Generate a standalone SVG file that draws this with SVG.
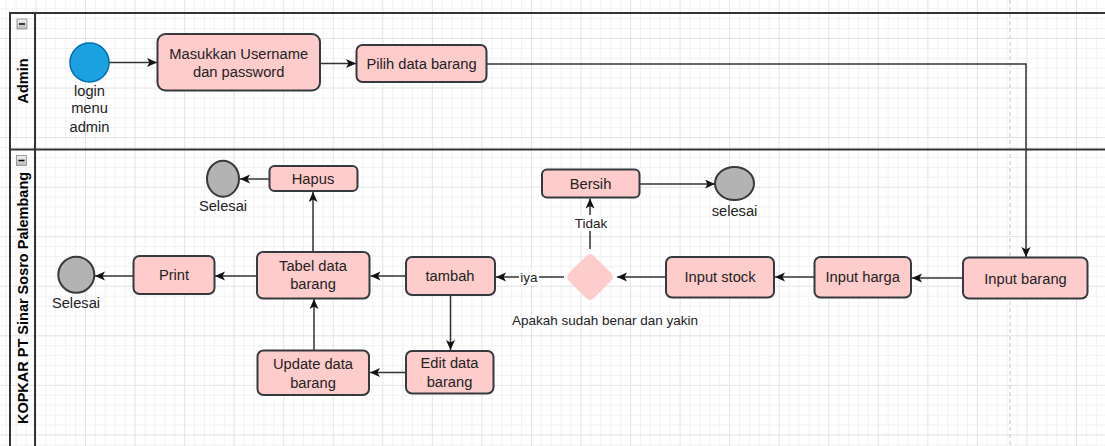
<svg xmlns="http://www.w3.org/2000/svg" width="1105" height="446" viewBox="0 0 1105 446">
  <style>
    .node { fill: #ffcccc; stroke: #36393d; stroke-width: 2; }
    .end { fill: #b3b3b3; stroke: #36393d; stroke-width: 2; }
    .start { fill: #1ba1e2; stroke: #006eaf; stroke-width: 1.5; }
    .txt { font-family: "Liberation Sans", Arial, sans-serif; font-size: 14.7px; fill: #222; text-anchor: middle; }
    .lbl { font-family: "Liberation Sans", Arial, sans-serif; font-size: 13.5px; fill: #222; text-anchor: middle; }
    .hdr { font-family: "Liberation Sans", Arial, sans-serif; font-size: 14.5px; font-weight: bold; fill: #000; text-anchor: middle; }
    .edge { fill: none; stroke: #333; stroke-width: 1.5; marker-end: url(#arrow); }
    .pool { fill: none; stroke: #333; stroke-width: 2; }
  </style>
  <defs>
    <pattern id="grid" patternUnits="userSpaceOnUse" x="35.45" y="38" width="49.55" height="49.55">
      <g fill="#f2f2f2">
        <rect x="9.91" y="0" width="1" height="49.55"/>
        <rect x="19.82" y="0" width="1" height="49.55"/>
        <rect x="29.73" y="0" width="1" height="49.55"/>
        <rect x="39.64" y="0" width="1" height="49.55"/>
        <rect x="0" y="9.91" width="49.55" height="1"/>
        <rect x="0" y="19.82" width="49.55" height="1"/>
        <rect x="0" y="29.73" width="49.55" height="1"/>
        <rect x="0" y="39.64" width="49.55" height="1"/>
      </g>
      <g fill="#e3e3e3">
        <rect x="0" y="0" width="1" height="49.55"/>
        <rect x="0" y="0" width="49.55" height="1"/>
      </g>
    </pattern>
    <linearGradient id="btn" x1="0" y1="0" x2="0" y2="1">
      <stop offset="0" stop-color="#f4f4f4"/>
      <stop offset="1" stop-color="#b8b8b8"/>
    </linearGradient>
    <marker id="arrow" markerUnits="userSpaceOnUse" markerWidth="11" markerHeight="10" refX="10" refY="4.5" orient="auto">
      <path d="M0,0 L10,4.5 L0,9 L2.5,4.5 Z" fill="#111"/>
    </marker>
  </defs>

  <!-- canvas and grid -->
  <rect width="1105" height="446" fill="#ffffff"/>
  <rect width="1105" height="446" fill="url(#grid)"/>
  <line x1="1010" y1="0" x2="1010" y2="446" stroke="#c8c8c8" stroke-width="1" stroke-dasharray="4 3"/>

  <!-- pool and lanes -->
  <g id="pool">
    <path class="pool" d="M10,446 L10,13 L1105,13"/>
    <line class="pool" x1="35" y1="13" x2="35" y2="446"/>
    <line class="pool" x1="10" y1="149.5" x2="1105" y2="149.5"/>
    <g id="lane-admin">
      <rect x="17" y="19" width="10" height="10" fill="url(#btn)" stroke="#888" stroke-width="0.8"/>
      <line x1="19" y1="24" x2="25" y2="24" stroke="#000" stroke-width="1.5"/>
      <text class="hdr" transform="translate(23,81) rotate(-90)" y="5">Admin</text>
    </g>
    <g id="lane-kopkar">
      <rect x="16.5" y="155.5" width="10" height="10" fill="url(#btn)" stroke="#888" stroke-width="0.8"/>
      <line x1="18.5" y1="160.5" x2="24.5" y2="160.5" stroke="#000" stroke-width="1.5"/>
      <text class="hdr" transform="translate(23,298) rotate(-90)" y="5">KOPKAR PT Sinar Sosro Palembang</text>
    </g>
  </g>

  <!-- connectors -->
  <g id="connectors">
    <path class="edge" d="M109,62.5 L157,62.5"/>
    <path class="edge" d="M320,63.5 L356,63.5"/>
    <path class="edge" d="M487,64 L1026,64 L1026,257"/>
    <path class="edge" d="M962.5,278 L912,278"/>
    <path class="edge" d="M814,277 L775,277"/>
    <path class="edge" d="M665.5,277 L617,277"/>
    <path class="edge" d="M564,277 L496,277"/>
    <path class="edge" d="M590,249 L590,198.5"/>
    <path class="edge" d="M639.5,184 L715,184"/>
    <path class="edge" d="M405.5,276 L370.5,276"/>
    <path class="edge" d="M450.5,295 L450.5,350"/>
    <path class="edge" d="M405.5,372.5 L370,372.5"/>
    <path class="edge" d="M314,350 L314,299"/>
    <path class="edge" d="M313,251.5 L313,192"/>
    <path class="edge" d="M269,179 L240,179"/>
    <path class="edge" d="M256.5,276 L215,276"/>
    <path class="edge" d="M133,276 L95,276"/>
    <!-- edge labels -->
    <rect x="519" y="269" width="20" height="16" fill="#fff"/>
    <text class="lbl" x="529" y="282">iya</text>
    <rect x="574" y="215" width="33" height="16" fill="#fff"/>
    <text class="lbl" x="591" y="227.5">Tidak</text>
  </g>

  <!-- Admin lane nodes -->
  <g id="start-login">
    <circle class="start" cx="89.5" cy="62.5" r="19.5"/>
    <text class="txt"><tspan x="89.5" y="95.5">login</tspan><tspan x="89.5" y="113">menu</tspan><tspan x="89.5" y="131.5">admin</tspan></text>
  </g>
  <g id="masukkan-username">
    <rect class="node" x="157.5" y="34" width="162.5" height="56.5" rx="8"/>
    <text class="txt"><tspan x="238.7" y="59">Masukkan Username</tspan><tspan x="238.7" y="77">dan password</tspan></text>
  </g>
  <g id="pilih-data-barang">
    <rect class="node" x="356.5" y="45" width="130" height="37" rx="6"/>
    <text class="txt" x="421.5" y="68.5">Pilih data barang</text>
  </g>

  <!-- KOPKAR lane nodes -->
  <g id="input-barang">
    <rect class="node" x="963" y="257.5" width="124.5" height="41" rx="6"/>
    <text class="txt" x="1025.5" y="283.5">Input barang</text>
  </g>
  <g id="input-harga">
    <rect class="node" x="814.5" y="257" width="96.5" height="40.5" rx="6"/>
    <text class="txt" x="862.7" y="282">Input harga</text>
  </g>
  <g id="input-stock">
    <rect class="node" x="666" y="257" width="108" height="40.5" rx="6"/>
    <text class="txt" x="720" y="282">Input stock</text>
  </g>
  <g id="decision">
    <path d="M594.24,256.24 L610.76,272.76 Q615,277 610.76,281.24 L594.24,297.76 Q590,302 585.76,297.76 L569.24,281.24 Q565,277 569.24,272.76 L585.76,256.24 Q590,252 594.24,256.24 Z" fill="#ffcccc"/>
    <text class="lbl" x="605" y="324.7">Apakah sudah benar dan yakin</text>
  </g>
  <g id="bersih">
    <rect class="node" x="542" y="169.5" width="97.5" height="28" rx="5"/>
    <text class="txt" x="590.5" y="188.5">Bersih</text>
  </g>
  <g id="end-bersih">
    <ellipse class="end" cx="734.5" cy="183.5" rx="19.5" ry="16.5"/>
    <text class="txt" x="734.5" y="216">selesai</text>
  </g>
  <g id="tambah">
    <rect class="node" x="406" y="257" width="89" height="38" rx="6"/>
    <text class="txt" x="450" y="281">tambah</text>
  </g>
  <g id="edit-data-barang">
    <rect class="node" x="406" y="351" width="87.5" height="42.5" rx="6"/>
    <text class="txt"><tspan x="449.5" y="368">Edit data</tspan><tspan x="449.5" y="386.7">barang</tspan></text>
  </g>
  <g id="update-data-barang">
    <rect class="node" x="257.5" y="350.5" width="111.5" height="44.5" rx="6"/>
    <text class="txt"><tspan x="313" y="369">Update data</tspan><tspan x="313" y="388">barang</tspan></text>
  </g>
  <g id="tabel-data-barang">
    <rect class="node" x="257" y="252" width="112.5" height="46.5" rx="6"/>
    <text class="txt"><tspan x="313" y="271">Tabel data</tspan><tspan x="313" y="289.3">barang</tspan></text>
  </g>
  <g id="hapus">
    <rect class="node" x="269.5" y="166" width="88" height="25" rx="5"/>
    <text class="txt" x="313" y="183.5">Hapus</text>
  </g>
  <g id="end-hapus">
    <ellipse class="end" cx="223" cy="178.7" rx="16" ry="18"/>
    <text class="txt" x="223" y="210.7">Selesai</text>
  </g>
  <g id="print">
    <rect class="node" x="133.5" y="256" width="81" height="38" rx="6"/>
    <text class="txt" x="174" y="280">Print</text>
  </g>
  <g id="end-print">
    <circle class="end" cx="76.3" cy="274.7" r="18"/>
    <text class="txt" x="76" y="307.7">Selesai</text>
  </g>
</svg>
